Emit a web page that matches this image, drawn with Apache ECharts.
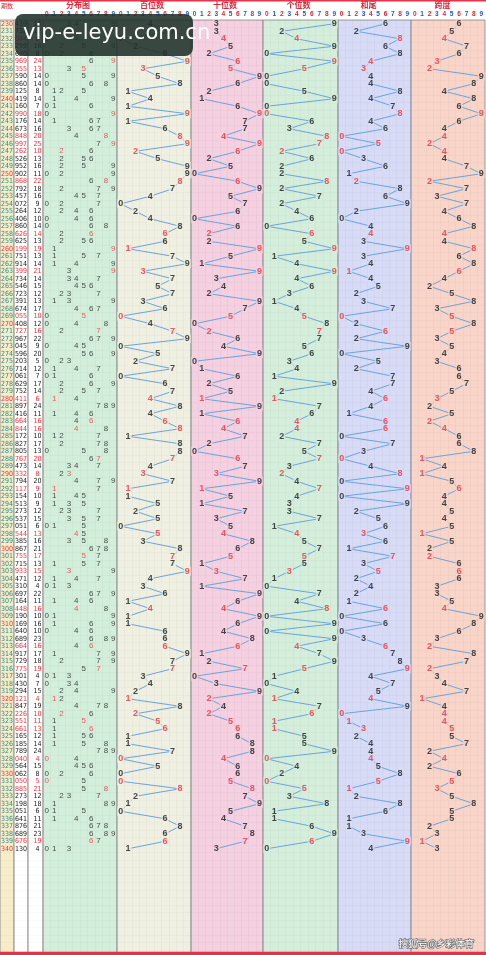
<!DOCTYPE html>
<html><head><meta charset="utf-8">
<script src="https://cdn.jsdelivr.net/npm/echarts@6/dist/echarts.min.js"></script>
<style>html,body{margin:0;padding:0;background:#fff}#c{width:486px;height:955px}</style>
</head><body><div id="c"></div>
<script>
const startPeriod = 230;
const draws = ["439","732","044","259","620","969","355","590","860","125","419","160","990","176","673","848","997","262","526","952","902","868","792","457","072","264","406","860","626","625","199","751","914","399","734","546","723","391","674","055","408","727","967","045","596","203","714","061","629","752","411","897","416","664","844","172","827","805","767","473","332","794","117","154","513","273","537","051","544","385","867","755","715","933","471","310","697","164","448","190","169","640","689","664","917","729","775","301","430","294","121","847","226","551","661","165","185","789","040","564","062","050","885","273","198","051","641","876","689","676","130"];
const digitLabels = ["0","1","2","3","4","5","6","7","8","9"];
const panelTitles = ["分布图","百位数","十位数","个位数","和尾","跨度"];

const ROW = 7.5, TOP = 20, BOTTOM = 952;
const yMax = -0.5 + (BOTTOM - TOP) / ROW;
const rows = draws.map((s, i) => {
  const d = s.split('').map(Number);
  const sum = d[0] + d[1] + d[2];
  const rep = new Set(d).size < 3;
  return {i, s, d, sum, tail: sum % 10, span: Math.max(...d) - Math.min(...d), rep, period: startPeriod + i};
});
const panels = [
  {x0: 43, x1: 117, bg: '#d3efdc'},
  {x0: 117, x1: 191, bg: '#efefe2'},
  {x0: 191, x1: 263, bg: '#f4d0e0'},
  {x0: 263, x1: 338, bg: '#d5eedb'},
  {x0: 338, x1: 411, bg: '#d7dbf6'},
  {x0: 411, x1: 486, bg: '#f8d5c8'}
];
const grids = [], xAxes = [], yAxes = [], series = [], graphics = [];
const redC = '#e8323c', blk = '#1a1a1a', lineC = '#6aa5dc';
function addGrid(x0, x1, bg, cats, showTop) {
  const k = grids.length;
  grids.push({left: x0, width: x1 - x0, top: TOP, height: BOTTOM - TOP, show: true, backgroundColor: bg, borderColor: '#8a8a8a', borderWidth: 0.8});
  xAxes.push({gridIndex: k, type: 'category', data: cats, position: 'top', boundaryGap: true,
    axisLine: {show: false}, axisTick: {show: false},
    axisLabel: {show: showTop, interval: 0, margin: 2, fontSize: 6.5, fontWeight: 'bold', color: (v, idx) => idx % 2 ? '#2255cc' : '#d6283a'},
    splitLine: {show: true, lineStyle: {color: 'rgba(0,0,0,0.06)', width: 0.5}}});
  yAxes.push({gridIndex: k, type: 'value', inverse: true, min: -0.5, max: yMax, interval: 1,
    axisLine: {show: false}, axisTick: {show: false}, axisLabel: {show: false},
    splitLine: {show: true, lineStyle: {color: 'rgba(0,0,0,0.045)', width: 0.5}}});
  return k;
}
const periodCols = [['期号', 0, 14, '#f6edc8'], ['号码', 14, 28, '#ffffff'], ['和值', 28, 43, '#ffffff']];
periodCols.forEach((c, ci) => {
  const k = addGrid(c[1], c[2], c[3], [c[0]], false);
  series.push({type: 'custom', xAxisIndex: k, yAxisIndex: k,
    data: rows.map(r => [0, r.i]),
    renderItem: (p, api) => {
      const r = rows[api.value(1)];
      const pt = api.coord([0, r.i]);
      let txt, col;
      if (ci === 0) { txt = String(r.period); col = r.period % 10 === 0 ? redC : '#2a8c8c'; }
      else if (ci === 1) { txt = r.s; col = r.rep ? redC : blk; }
      else { txt = String(r.sum); col = r.rep ? redC : blk; }
      return {type: 'text', style: {text: txt, x: ci === 2 ? pt[0] + 2 : pt[0], y: pt[1], align: 'center', verticalAlign: 'middle', fontSize: 7, fill: col, fontFamily: 'DejaVu Sans Condensed, Liberation Sans Narrow, sans-serif'}};
    }});
});
const kd = addGrid(panels[0].x0, panels[0].x1, panels[0].bg, digitLabels, true);
const distData = [];
rows.forEach(r => {
  const cnt = {};
  r.d.forEach(v => cnt[v] = (cnt[v] || 0) + 1);
  Object.keys(cnt).forEach(v => distData.push({value: [Number(v), r.i], rep: cnt[v] > 1}));
});
series.push({type: 'scatter', xAxisIndex: kd, yAxisIndex: kd, symbolSize: 0.1,
  data: distData.map(o => ({value: o.value, label: {color: o.rep ? redC : blk}})),
  label: {show: true, position: 'inside', formatter: p => digitLabels[p.value[0]], fontSize: 8}});
const getters = [r => r.d[0], r => r.d[1], r => r.d[2], r => r.tail, r => r.span];
getters.forEach((g, gi) => {
  const P = panels[gi + 1];
  const k = addGrid(P.x0, P.x1, P.bg, digitLabels, true);
  series.push({type: 'line', xAxisIndex: k, yAxisIndex: k, symbol: 'none', lineStyle: {color: lineC, width: 1}, z: 2,
    data: rows.map(r => [g(r), r.i])});
  series.push({type: 'scatter', xAxisIndex: k, yAxisIndex: k, symbolSize: 0.1, z: 3,
    data: rows.map(r => ({value: [g(r), r.i], label: {color: r.rep ? redC : blk}})),
    label: {show: true, position: 'inside', formatter: p => digitLabels[p.value[0]], fontSize: 9, fontWeight: 'bold', backgroundColor: P.bg, padding: [0, 1]}});
});
panelTitles.forEach((t, i) => {
  const P = panels[i];
  graphics.push({type: 'text', left: (P.x0 + P.x1) / 2 - 14, top: 1, style: {text: t, fontSize: 8, fontWeight: 'bold', fill: '#d6283a', fontFamily: 'Noto Sans CJK SC'}});
});
graphics.push({type: 'text', left: 1, top: 3, style: {text: '期数', fontSize: 6, fill: '#d6283a', fontFamily: 'Noto Sans CJK SC'}});
graphics.push({type: 'rect', left: 0, top: 0, shape: {width: 486, height: 1.5}, style: {fill: '#e8324a'}});
graphics.push({type: 'rect', left: 0, top: 952, shape: {width: 486, height: 3}, style: {fill: '#e8324a'}});
graphics.push({type: 'rect', left: 15, top: 14, z: 100, shape: {width: 178, height: 42, r: 8}, style: {fill: 'rgba(32,48,42,0.88)'}});
graphics.push({type: 'text', left: 23, top: 23, z: 101, style: {text: 'vip-e-leyu.com.cn', fontSize: 21, fill: '#ffffff', fontFamily: 'DejaVu Sans'}});
graphics.push({type: 'text', left: 398, top: 938, z: 101, style: {text: '搜狐号@乡彩体育', fontSize: 9.5, fill: '#ffffff', stroke: '#777', lineWidth: 1.5, fontFamily: 'Noto Sans CJK SC'}});

const chart = echarts.init(document.getElementById('c'), null, {renderer: 'canvas'});
chart.setOption({animation: false, grid: grids, xAxis: xAxes, yAxis: yAxes, series, graphic: graphics});
</script></body></html>
